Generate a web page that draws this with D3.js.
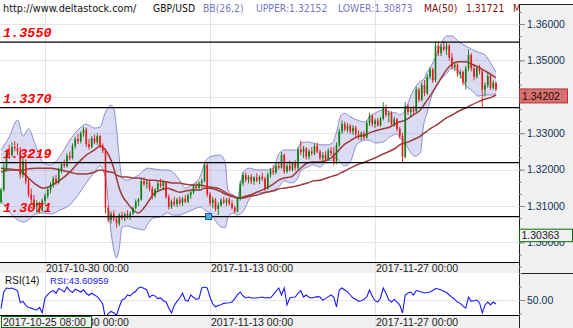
<!DOCTYPE html>
<html>
<head>
<meta charset="utf-8">
<script src="https://cdn.jsdelivr.net/npm/d3@7"></script>
<style>
  body { margin: 0; background: #ffffff; }
  svg { display: block; }
</style>
</head>
<body>
<svg id="chart" width="573" height="328"></svg>
<script>
// ---- GBP/USD price bars (one entry per bar) ----
const barOpen = [
1.3111,1.3145,1.3205,1.3245,1.3240,1.3262,1.3258,1.3250,1.3185,1.3222,
1.3168,1.3132,1.3118,1.3098,1.3108,1.3088,1.3115,1.3128,1.3145,1.3158,
1.3175,1.3165,1.3198,1.3215,1.3210,1.3238,1.3232,1.3265,1.3284,1.3278,
1.3300,1.3310,1.3270,1.3262,1.3286,1.3275,1.3292,1.3265,1.3252,1.3095,
1.3062,1.3078,1.3065,1.3052,1.3075,1.3068,1.3078,1.3072,1.3080,1.3095,
1.3112,1.3118,1.3168,1.3160,1.3165,1.3148,1.3128,1.3145,1.3162,1.3155,
1.3165,1.3125,1.3098,1.3112,1.3105,1.3118,1.3108,1.3120,1.3112,1.3130,
1.3138,1.3155,1.3150,1.3162,1.3168,1.3212,1.3132,1.3108,1.3118,1.3092,
1.3102,1.3115,1.3110,1.3118,1.3106,1.3095,1.3085,1.3120,1.3162,1.3185,
1.3172,1.3180,1.3168,1.3178,1.3170,1.3180,1.3175,1.3148,1.3186,1.3198,
1.3192,1.3210,1.3205,1.3240,1.3195,1.3210,1.3200,1.3218,1.3205,1.3255,
1.3248,1.3258,1.3235,1.3250,1.3245,1.3265,1.3250,1.3232,1.3240,1.3228,
1.3252,1.3245,1.3218,1.3268,1.3305,1.3325,1.3310,1.3320,1.3305,1.3315,
1.3298,1.3290,1.3300,1.3288,1.3328,1.3348,1.3325,1.3335,1.3322,1.3340,
1.3372,1.3350,1.3355,1.3325,1.3338,1.3312,1.3292,1.3235,1.3375,1.3358,
1.3365,1.3360,1.3420,1.3392,1.3432,1.3410,1.3455,1.3475,1.3445,1.3540,
1.3520,1.3538,1.3530,1.3540,1.3508,1.3482,1.3488,1.3462,1.3468,1.3440,
1.3478,1.3515,1.3478,1.3455,1.3480,1.3470,1.3420,1.3432,1.3458,1.3425,
1.3438];
const barHigh = [
1.3150,1.3215,1.3255,1.3268,1.3275,1.3278,1.3272,1.3262,1.3232,1.3228,
1.3175,1.3148,1.3130,1.3115,1.3112,1.3120,1.3135,1.3150,1.3165,1.3182,
1.3185,1.3205,1.3222,1.3228,1.3245,1.3250,1.3272,1.3290,1.3298,1.3305,
1.3318,1.3315,1.3285,1.3292,1.3296,1.3300,1.3295,1.3272,1.3258,1.3102,
1.3085,1.3088,1.3072,1.3080,1.3085,1.3082,1.3088,1.3085,1.3098,1.3118,
1.3122,1.3175,1.3178,1.3172,1.3170,1.3155,1.3150,1.3168,1.3175,1.3170,
1.3168,1.3132,1.3118,1.3125,1.3122,1.3126,1.3125,1.3130,1.3135,1.3142,
1.3160,1.3165,1.3168,1.3175,1.3222,1.3218,1.3138,1.3125,1.3122,1.3110,
1.3122,1.3125,1.3122,1.3124,1.3115,1.3100,1.3125,1.3170,1.3192,1.3192,
1.3185,1.3188,1.3182,1.3190,1.3184,1.3192,1.3180,1.3192,1.3205,1.3212,
1.3218,1.3222,1.3248,1.3244,1.3215,1.3225,1.3222,1.3226,1.3262,1.3280,
1.3265,1.3262,1.3256,1.3262,1.3272,1.3274,1.3255,1.3248,1.3250,1.3258,
1.3262,1.3262,1.3275,1.3312,1.3335,1.3332,1.3328,1.3325,1.3322,1.3320,
1.3308,1.3305,1.3306,1.3335,1.3356,1.3352,1.3340,1.3342,1.3345,1.3385,
1.3378,1.3362,1.3360,1.3345,1.3342,1.3318,1.3300,1.3385,1.3380,1.3372,
1.3375,1.3428,1.3425,1.3440,1.3446,1.3462,1.3482,1.3480,1.3552,1.3552,
1.3545,1.3551,1.3548,1.3545,1.3520,1.3495,1.3492,1.3475,1.3472,1.3485,
1.3530,1.3520,1.3490,1.3485,1.3488,1.3475,1.3440,1.3465,1.3462,1.3445,
1.3442];
const barLow = [
1.3105,1.3140,1.3195,1.3230,1.3235,1.3250,1.3240,1.3175,1.3178,1.3160,
1.3125,1.3105,1.3090,1.3082,1.3080,1.3085,1.3105,1.3120,1.3135,1.3150,
1.3158,1.3160,1.3190,1.3205,1.3205,1.3225,1.3228,1.3258,1.3270,1.3272,
1.3290,1.3262,1.3255,1.3258,1.3270,1.3268,1.3258,1.3245,1.3080,1.3055,
1.3052,1.3058,1.3040,1.3045,1.3062,1.3058,1.3065,1.3062,1.3075,1.3090,
1.3100,1.3115,1.3155,1.3148,1.3140,1.3118,1.3122,1.3140,1.3150,1.3145,
1.3120,1.3090,1.3092,1.3100,1.3098,1.3102,1.3100,1.3108,1.3108,1.3120,
1.3132,1.3145,1.3142,1.3150,1.3165,1.3125,1.3100,1.3095,1.3085,1.3075,
1.3098,1.3105,1.3100,1.3102,1.3090,1.3080,1.3082,1.3115,1.3155,1.3165,
1.3162,1.3160,1.3158,1.3165,1.3160,1.3168,1.3140,1.3145,1.3178,1.3185,
1.3188,1.3200,1.3202,1.3188,1.3190,1.3195,1.3195,1.3198,1.3200,1.3240,
1.3232,1.3228,1.3228,1.3238,1.3240,1.3245,1.3225,1.3218,1.3222,1.3225,
1.3238,1.3212,1.3215,1.3262,1.3298,1.3305,1.3302,1.3298,1.3295,1.3290,
1.3282,1.3280,1.3282,1.3285,1.3320,1.3318,1.3315,1.3318,1.3318,1.3335,
1.3345,1.3330,1.3320,1.3318,1.3305,1.3285,1.3221,1.3230,1.3350,1.3345,
1.3350,1.3355,1.3385,1.3388,1.3402,1.3405,1.3448,1.3438,1.3440,1.3512,
1.3512,1.3525,1.3515,1.3500,1.3475,1.3470,1.3455,1.3450,1.3432,1.3420,
1.3470,1.3470,1.3445,1.3450,1.3462,1.3368,1.3400,1.3425,1.3418,1.3420,
1.3415];
const barClose = [
1.3145,1.3205,1.3245,1.3240,1.3262,1.3258,1.3250,1.3185,1.3222,1.3168,
1.3132,1.3118,1.3098,1.3108,1.3088,1.3115,1.3128,1.3145,1.3158,1.3175,
1.3165,1.3198,1.3215,1.3210,1.3238,1.3232,1.3265,1.3284,1.3278,1.3300,
1.3310,1.3270,1.3262,1.3286,1.3275,1.3292,1.3265,1.3252,1.3095,1.3062,
1.3078,1.3065,1.3052,1.3075,1.3068,1.3078,1.3072,1.3080,1.3095,1.3112,
1.3118,1.3168,1.3160,1.3165,1.3148,1.3128,1.3145,1.3162,1.3155,1.3165,
1.3125,1.3098,1.3112,1.3105,1.3118,1.3108,1.3120,1.3112,1.3130,1.3138,
1.3155,1.3150,1.3162,1.3168,1.3212,1.3132,1.3108,1.3118,1.3092,1.3102,
1.3115,1.3110,1.3118,1.3106,1.3095,1.3085,1.3120,1.3162,1.3185,1.3172,
1.3180,1.3168,1.3178,1.3170,1.3180,1.3175,1.3148,1.3186,1.3198,1.3192,
1.3210,1.3205,1.3240,1.3195,1.3210,1.3200,1.3218,1.3205,1.3255,1.3248,
1.3258,1.3235,1.3250,1.3245,1.3265,1.3250,1.3232,1.3240,1.3228,1.3252,
1.3245,1.3218,1.3268,1.3305,1.3325,1.3310,1.3320,1.3305,1.3315,1.3298,
1.3290,1.3300,1.3288,1.3328,1.3348,1.3325,1.3335,1.3322,1.3340,1.3372,
1.3350,1.3355,1.3325,1.3338,1.3312,1.3292,1.3235,1.3375,1.3358,1.3365,
1.3360,1.3420,1.3392,1.3432,1.3410,1.3455,1.3475,1.3445,1.3540,1.3520,
1.3538,1.3530,1.3540,1.3508,1.3482,1.3488,1.3462,1.3468,1.3440,1.3478,
1.3515,1.3478,1.3455,1.3480,1.3470,1.3420,1.3432,1.3458,1.3425,1.3438,
1.34202];

// ---- RSI(14), one value per bar ----
const rsiValues = [
43.6,56,58.9,58.5,58.9,58,57,48,49,46,
44.5,44,43,42.6,44.5,40.5,51.5,54,56,57,
55,58.5,57.5,56,59.6,57,55.5,58,57,55.9,
57.5,55,53.5,55,53.7,52.5,50,47,36,40,
41.5,40.5,38.5,45,50,51,53.7,53,55.2,56.5,
58.9,59.6,58.5,57.4,52,53.7,53,51,51.5,49.5,
48.5,44,40.4,46,49,51.5,55,50,49,53.7,
52,50.5,51,58.9,59.6,58.9,52,47,45,46,
46.5,47.5,47.8,48,48.5,51,54,55.9,53,51.5,
52.2,51.5,51.5,51.5,51.8,52.2,51.5,51.8,51.5,54,
56.5,58.9,53.7,58.9,46.3,51.5,52,52.2,55,57,
52.2,53.7,52,51.5,52,52.5,52.2,50,51,52.5,
53.7,52.2,44.8,57.4,58.9,57.4,56,53.7,51.5,50.5,
49,49.5,50.5,52.2,57.4,53,49.5,48.5,51.5,58.9,
55,50,48.5,50.5,48.5,46.3,40.4,53.7,55.2,55.9,
53.7,57,56.5,55.9,55.2,55.5,55.9,57,58.5,58.2,
57.4,56.5,55.5,53.7,52,50.5,48.5,47.5,45.5,44,
52.2,49,49.5,50,48,40.4,46.3,48.5,46.3,48.5,
47];

// ---- Indicator lines, sampled at these bar positions ----
const lineIdx = [
0,3,6,8,10,12.5,15.5,18,21.5,25,
28,31,34,36,38,40,41,42,43,44,
46,48,50,52,53.5,55.5,58,60.5,62.5,65,
67,69.5,72.5,74,76,79.5,81.5,82.5,84.5,86,
87,88,90.5,93,96.5,99,101,103,105.5,107.5,
109,111.5,113.5,116,118.5,120.5,122,123.5,125,127,
129.5,132.5,134,136,139,141.5,144,145,147,149,
150.5,152.5,153.5,155,156,158.5,160.5,162,164,166.5,
169,171,173.5,176,178.5,180];
const bbUpper = [
1.3254,1.3290,1.3336,1.3292,1.3312,1.3268,1.3218,1.3213,1.3237,1.3281,
1.3309,1.3325,1.3314,1.3317,1.3358,1.3377,1.3369,1.3314,1.3232,1.3177,
1.3171,1.3177,1.3185,1.3199,1.3204,1.3202,1.3199,1.3199,1.3193,1.3171,
1.3149,1.3158,1.3182,1.3218,1.3235,1.3240,1.3221,1.3144,1.3130,1.3125,
1.3155,1.3193,1.3204,1.3199,1.3199,1.3204,1.3243,1.3254,1.3254,1.3254,
1.3273,1.3276,1.3273,1.3268,1.3268,1.3273,1.3303,1.3347,1.3355,1.3345,
1.3336,1.3331,1.3345,1.3355,1.3364,1.3358,1.3355,1.3350,1.3364,1.3402,
1.3424,1.3443,1.3446,1.3468,1.3479,1.3518,1.3553,1.3567,1.3567,1.3551,
1.3540,1.3531,1.3523,1.3515,1.3487,1.3468];
const bbMiddle = [
1.3193,1.3199,1.3199,1.3191,1.3177,1.3160,1.3149,1.3155,1.3171,1.3193,
1.3218,1.3240,1.3254,1.3265,1.3254,1.3226,1.3204,1.3177,1.3149,1.3130,
1.3108,1.3089,1.3081,1.3095,1.3111,1.3133,1.3144,1.3149,1.3144,1.3138,
1.3141,1.3144,1.3144,1.3149,1.3149,1.3141,1.3133,1.3130,1.3125,1.3122,
1.3122,1.3125,1.3130,1.3138,1.3149,1.3160,1.3171,1.3177,1.3180,1.3193,
1.3204,1.3218,1.3221,1.3221,1.3226,1.3235,1.3246,1.3259,1.3270,1.3279,
1.3290,1.3295,1.3301,1.3306,1.3312,1.3317,1.3328,1.3331,1.3336,1.3345,
1.3353,1.3364,1.3375,1.3391,1.3402,1.3432,1.3457,1.3474,1.3490,1.3496,
1.3496,1.3490,1.3482,1.3471,1.3460,1.3452];
const bbLower = [
1.3116,1.3084,1.3062,1.3056,1.3062,1.3078,1.3081,1.3078,1.3089,1.3103,
1.3130,1.3163,1.3193,1.3210,1.3177,1.3029,1.2979,1.2957,1.2985,1.3040,
1.3045,1.3040,1.3037,1.3034,1.3053,1.3067,1.3070,1.3081,1.3075,1.3075,
1.3081,1.3089,1.3097,1.3089,1.3081,1.3045,1.3040,1.3067,1.3081,1.3075,
1.3078,1.3084,1.3122,1.3136,1.3138,1.3144,1.3152,1.3169,1.3163,1.3171,
1.3196,1.3207,1.3213,1.3207,1.3224,1.3226,1.3232,1.3218,1.3210,1.3221,
1.3270,1.3281,1.3281,1.3273,1.3276,1.3290,1.3298,1.3287,1.3273,1.3246,
1.3237,1.3246,1.3314,1.3358,1.3388,1.3435,1.3452,1.3463,1.3479,1.3468,
1.3430,1.3419,1.3402,1.3405,1.3405,1.3410];
const ma50 = [
1.3204,1.3202,1.3199,1.3199,1.3202,1.3204,1.3204,1.3204,1.3199,1.3193,
1.3188,1.3188,1.3193,1.3199,1.3196,1.3193,1.3191,1.3185,1.3182,1.3180,
1.3180,1.3177,1.3177,1.3174,1.3171,1.3171,1.3169,1.3166,1.3163,1.3163,
1.3160,1.3158,1.3158,1.3155,1.3152,1.3147,1.3138,1.3133,1.3127,1.3122,
1.3122,1.3122,1.3127,1.3130,1.3138,1.3141,1.3147,1.3149,1.3152,1.3155,
1.3158,1.3163,1.3169,1.3171,1.3177,1.3182,1.3185,1.3191,1.3196,1.3204,
1.3213,1.3221,1.3226,1.3232,1.3243,1.3251,1.3262,1.3268,1.3273,1.3279,
1.3284,1.3292,1.3298,1.3306,1.3312,1.3323,1.3334,1.3342,1.3350,1.3361,
1.3369,1.3377,1.3386,1.3394,1.3399,1.3405];

// ---- Horizontal levels ----
const levelValues = [1.3550, 1.3370, 1.3219, 1.3071];
const levelLabels = ["1.3550", "1.3370", "1.3219", "1.3071"];

// ---- Axis ticks ----
const priceTicks = [1.30, 1.31, 1.32, 1.33, 1.34, 1.35, 1.36];
const dateTickIdx = [16, 76, 136];
const dateTickLabels = ["2017-10-30 00:00", "2017-11-13 00:00", "2017-11-27 00:00"];
const rsiTicks = [40, 50, 60, 70];
const rsiLabelTick = 50;

// ---- Header / readouts ----
const lastPrice = 1.34202;
const cursorPrice = 1.30363;
const cursorTime = "2017-10-25 08:00";
const cursorAnchor = { idx: 75.5, price: 1.3071 };
const readUpper = "1.32152", readLower = "1.30873", readMA = "1.31721", readRSI = "43.60959";

// ---------------------------------------------------------------
const svg = d3.select("#chart");
const plotR = 519;
const mainBottom = 262, rsiTop = 273, rsiBottom = 315;

const x = d3.scaleLinear().domain([0, 180]).range([1, 496]);
const y = d3.scaleLinear().domain([1.30, 1.36]).range([242.4, 24]);
const yr = d3.scaleLinear().domain([40, 60]).range([313.5, 286.5]);

const defs = svg.append("defs");
defs.append("clipPath").attr("id", "clipMain")
  .append("rect").attr("x", 0).attr("y", 0).attr("width", plotR).attr("height", mainBottom);
defs.append("clipPath").attr("id", "clipRsi")
  .append("rect").attr("x", 0).attr("y", rsiTop).attr("width", plotR).attr("height", rsiBottom - rsiTop);

// date strips
svg.append("rect").attr("x", 0).attr("y", mainBottom).attr("width", plotR).attr("height", rsiTop - mainBottom).attr("fill", "#f0f0f0");
svg.append("rect").attr("x", 0).attr("y", rsiBottom).attr("width", plotR).attr("height", 328 - rsiBottom).attr("fill", "#f0f0f0");

// grid
const grid = svg.append("g");
grid.selectAll("line.h").data(priceTicks).join("line")
  .attr("x1", 0).attr("x2", plotR)
  .attr("y1", d => Math.round(y(d)) + 0.5).attr("y2", d => Math.round(y(d)) + 0.5)
  .attr("stroke", "#e6e6e6");
grid.selectAll("line.v").data(dateTickIdx).join("line")
  .attr("x1", d => Math.round(x(d)) + 0.5).attr("x2", d => Math.round(x(d)) + 0.5)
  .attr("y1", 0).attr("y2", 328)
  .attr("stroke", "#e3e3e3");
grid.append("line").attr("x1", 0).attr("x2", plotR)
  .attr("y1", Math.round(yr(50)) + 0.5).attr("y2", Math.round(yr(50)) + 0.5)
  .attr("stroke", "#e6e6e6");

// ---- main panel ----
const main = svg.append("g").attr("clip-path", "url(#clipMain)");

const bandPts = lineIdx.map((d, k) => ({ i: d, up: bbUpper[k], mid: bbMiddle[k], lo: bbLower[k], ma: ma50[k] }));

main.append("path").datum(bandPts)
  .attr("d", d3.area().x(d => x(d.i)).y0(d => y(d.lo)).y1(d => y(d.up)).curve(d3.curveMonotoneX))
  .attr("fill", "rgba(150,150,222,0.34)");

const edge = key => d3.line().x(d => x(d.i)).y(d => y(d[key])).curve(d3.curveMonotoneX);
main.append("path").datum(bandPts).attr("d", edge("up")).attr("fill", "none").attr("stroke", "#8c8cd2").attr("stroke-width", 1);
main.append("path").datum(bandPts).attr("d", edge("lo")).attr("fill", "none").attr("stroke", "#8c8cd2").attr("stroke-width", 1);
main.append("path").datum(bandPts).attr("d", edge("ma")).attr("fill", "none").attr("stroke", "#9e3a3a").attr("stroke-width", 1.5);
main.append("path").datum(bandPts).attr("d", edge("mid")).attr("fill", "none").attr("stroke", "#9e3a3a").attr("stroke-width", 1.5);

// candles
const bars = barOpen.map((o, i) => ({ i, o, h: barHigh[i], l: barLow[i], c: barClose[i] }));
const up = "#0b7d0b", down = "#ee1515";
const cg = main.append("g");
cg.selectAll("line").data(bars).join("line")
  .attr("x1", d => x(d.i)).attr("x2", d => x(d.i))
  .attr("y1", d => y(d.h)).attr("y2", d => y(d.l))
  .attr("stroke", d => d.c >= d.o ? up : down).attr("stroke-width", 0.9);
cg.selectAll("rect").data(bars).join("rect")
  .attr("x", d => x(d.i) - 0.8).attr("width", 1.6)
  .attr("y", d => y(Math.max(d.o, d.c)))
  .attr("height", d => Math.max(1, Math.abs(y(d.o) - y(d.c))))
  .attr("fill", d => d.c >= d.o ? up : down);

// horizontal levels
const lv = svg.append("g");
lv.selectAll("line").data(levelValues).join("line")
  .attr("x1", 0).attr("x2", plotR)
  .attr("y1", d => y(d)).attr("y2", d => y(d))
  .attr("stroke", "#000").attr("stroke-width", 1.3);
lv.selectAll("text").data(levelValues).join("text")
  .attr("x", 3).attr("y", d => y(d) - 5)
  .text((d, k) => levelLabels[k])
  .attr("font-family", "'Liberation Mono', 'DejaVu Sans Mono', monospace")
  .attr("font-weight", "bold").attr("font-style", "italic")
  .attr("font-size", "13.5px").attr("fill", "#ff0000");

// anchor marker on the lower level
svg.append("rect")
  .attr("x", x(cursorAnchor.idx) - 3).attr("y", y(cursorAnchor.price) - 3)
  .attr("width", 6).attr("height", 6)
  .attr("fill", "#4fb0e6").attr("stroke", "#1d5a86").attr("stroke-width", 1);

// panel separators
svg.append("line").attr("x1", 0).attr("x2", plotR).attr("y1", mainBottom + 0.5).attr("y2", mainBottom + 0.5).attr("stroke", "#000");
svg.append("line").attr("x1", 0).attr("x2", plotR).attr("y1", rsiBottom + 0.5).attr("y2", rsiBottom + 0.5).attr("stroke", "#000");

// date labels
const dateFont = "'Liberation Sans', Arial, sans-serif";
[mainBottom + 9.5, rsiBottom + 11].forEach(by => {
  svg.append("g").selectAll("text").data(dateTickIdx).join("text")
    .attr("x", d => x(d) + 1).attr("y", by)
    .text((d, k) => dateTickLabels[k])
    .attr("font-family", dateFont).attr("font-size", "10.5px").attr("fill", "#222");
});

// ---- RSI panel ----
const rsiG = svg.append("g").attr("clip-path", "url(#clipRsi)");
rsiG.append("path").datum(rsiValues)
  .attr("d", d3.line().x((d, i) => x(i)).y(d => yr(d)))
  .attr("fill", "none").attr("stroke", "#1a1aff").attr("stroke-width", 1.1);
svg.append("text").attr("x", 5).attr("y", 284).text("RSI(14)")
  .attr("font-family", dateFont).attr("font-size", "10px").attr("fill", "#111");
svg.append("text").attr("x", 50).attr("y", 284).text("RSI:" + readRSI)
  .attr("font-family", dateFont).attr("font-size", "9.6px").attr("fill", "#1a1aff");

// ---- header ----
const hFont = "'DejaVu Sans Condensed', 'DejaVu Sans', sans-serif";
const header = [
  { x: 3, t: "http://www.deltastock.com/", c: "#111", s: 10.8 },
  { x: 153, t: "GBP/USD", c: "#111", s: 10.3 },
  { x: 203, t: "BB(26,2)", c: "#7878c8", s: 10.3 },
  { x: 256, t: "UPPER:" + readUpper, c: "#7878c8", s: 10.3 },
  { x: 338, t: "LOWER:" + readLower, c: "#7878c8", s: 10.3 },
  { x: 424, t: "MA(50)", c: "#8b0a0a", s: 10.3 },
  { x: 466, t: readMA, c: "#8b0a0a", s: 10.3 },
  { x: 513, t: "MA", c: "#8b0a0a", s: 10.3 }
];
svg.append("g").selectAll("text").data(header).join("text")
  .attr("x", d => d.x).attr("y", 12).text(d => d.t)
  .attr("font-family", hFont).attr("font-stretch", "condensed")
  .attr("font-size", d => d.s + "px").attr("fill", d => d.c);

// crosshair time readout
svg.append("rect").attr("x", 1.5).attr("y", 316.5).attr("width", 90).attr("height", 11)
  .attr("fill", "#f4f4f4").attr("stroke", "#0a6a0a");
svg.append("text").attr("x", 3).attr("y", 326).text(cursorTime)
  .attr("font-family", dateFont).attr("font-size", "10.5px").attr("fill", "#222");

// ---- right axis panel ----
svg.append("rect").attr("x", plotR + 0.5).attr("y", 4.5).attr("width", 573 - plotR).attr("height", 330)
  .attr("fill", "#f0f0f0").attr("stroke", "#222");
svg.append("line").attr("x1", plotR).attr("x2", 573).attr("y1", rsiTop + 0.5).attr("y2", rsiTop + 0.5).attr("stroke", "#222");

const axFont = "'Liberation Sans', Arial, sans-serif";
const styleAxis = g => {
  g.select(".domain").remove();
  g.selectAll(".tick line").attr("stroke", "#8a8a8a");
  g.selectAll(".tick text").attr("font-family", axFont).attr("font-size", "10.5px").attr("fill", "#14325a");
};
// the tick label sitting under the last-price marker is not drawn
const hiddenUnderMarker = v => Math.abs(y(v) - (y(lastPrice) + 7)) < 8;
const minorTicks = d3.range(1.29, 1.365, 0.01 / 3).filter(v => y(v) > 6 && y(v) < rsiTop - 1);
svg.append("g").attr("transform", `translate(${plotR},0)`)
  .call(d3.axisRight(y).tickValues(minorTicks).tickSize(3).tickFormat(""))
  .call(styleAxis);
svg.append("g").attr("transform", `translate(${plotR},0)`)
  .call(d3.axisRight(y).tickValues(priceTicks).tickSize(6).tickPadding(2)
    .tickFormat(v => hiddenUnderMarker(v) ? "" : d3.format(".5f")(v)))
  .call(styleAxis);
svg.append("g").attr("transform", `translate(${plotR},0)`)
  .call(d3.axisRight(yr).tickValues(rsiTicks.filter(v => v !== rsiLabelTick)).tickSize(3).tickFormat(""))
  .call(styleAxis);
svg.append("g").attr("transform", `translate(${plotR},0)`)
  .call(d3.axisRight(yr).tickValues([rsiLabelTick]).tickSize(6).tickPadding(2).tickFormat(d3.format(".2f")))
  .call(styleAxis);

// last price marker
svg.append("rect").attr("x", plotR + 0.5).attr("y", y(lastPrice) - 0.5).attr("width", 48).attr("height", 14)
  .attr("fill", "#d87272").attr("stroke", "#b03434");
svg.append("text").attr("x", plotR + 3).attr("y", y(lastPrice) + 10.5).text(d3.format(".5f")(lastPrice))
  .attr("font-family", axFont).attr("font-size", "10.5px").attr("fill", "#2a0a0a");

// cursor price box
svg.append("rect").attr("x", plotR + 0.5).attr("y", y(cursorPrice)).attr("width", 53).attr("height", 12.5)
  .attr("fill", "#f0f0f0").attr("stroke", "#0a6a0a");
svg.append("text").attr("x", plotR + 2.5).attr("y", y(cursorPrice) + 10).text(d3.format(".5f")(cursorPrice))
  .attr("font-family", axFont).attr("font-size", "10.5px").attr("fill", "#1a1a1a");
</script>
</body>
</html>
